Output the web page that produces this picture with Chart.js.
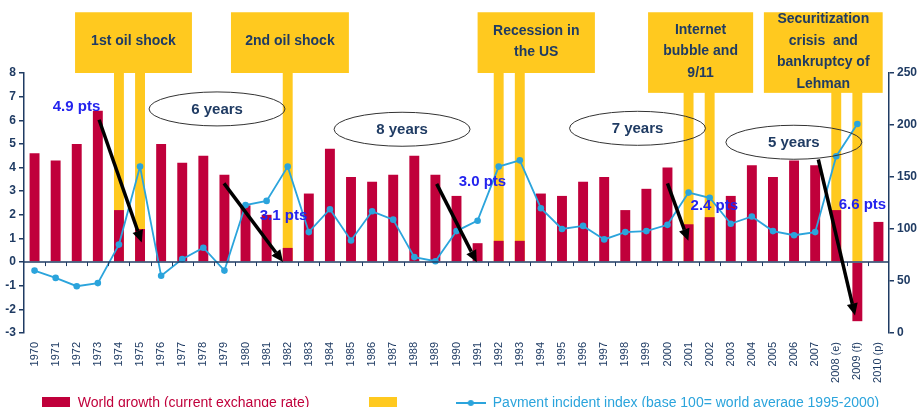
<!DOCTYPE html>
<html><head><meta charset="utf-8">
<script src="https://cdn.jsdelivr.net/npm/chart.js@4/dist/chart.umd.min.js"></script>
<style>
html,body{margin:0;padding:0;background:#fff;overflow:hidden;}
#wrap{position:relative;width:920px;height:420px;}
</style></head><body>
<div id="wrap"><canvas id="c"></canvas></div>
<script>
// ---------- DATA ----------
const categories = ['1970','1971','1972','1973','1974','1975','1976','1977','1978','1979',
  '1980','1981','1982','1983','1984','1985','1986','1987','1988','1989',
  '1990','1991','1992','1993','1994','1995','1996','1997','1998','1999',
  '2000','2001','2002','2003','2004','2005','2006','2007','2008 (e)','2009 (f)','2010 (p)'];
const worldGrowth = [4.6,4.3,5.0,6.4,2.2,1.4,5.0,4.2,4.5,3.7,
  2.4,2.0,0.6,2.9,4.8,3.6,3.4,3.7,4.5,3.7,
  2.8,0.8,0.9,0.9,2.9,2.8,3.4,3.6,2.2,3.1,
  4.0,1.6,1.9,2.8,4.1,3.6,4.3,4.1,2.2,-2.5,1.7];
const paymentIndex = [60,53,45,48,85,160,55,71,82,60,
  123,127,160,97,119,89,117,109,73,69,
  98,108,160,166,120,100,103,90,97,98,
  104,135,130,105,112,98,94,97,170,201,null];
const crisisYears = ['1974','1975','1982','1992','1993','2001','2002','2008 (e)','2009 (f)'];
const leftRange = [-3, 8];
const rightRange = [0, 250];

// ---------- ANNOTATIONS (x in category index, y in left-axis units) ----------
const eventBoxes = [
  {lines:['1st oil shock'], x0:1.92, x1:7.46, top:10.57, bottom:8.0},
  {lines:['2nd oil shock'], x0:9.31, x1:14.9, top:10.57, bottom:8.0},
  {lines:['Recession in','the US'], x0:21.0, x1:26.56, top:10.57, bottom:8.0},
  {lines:['Internet','bubble and','9/11'], x0:29.08, x1:34.06, top:10.57, bottom:7.16},
  {lines:['Securitization','crisis  and','bankruptcy of','Lehman'], x0:34.57, x1:40.2, top:10.57, bottom:7.16}
];
const durationLabels = [
  {text:'6 years', x:8.65, y:6.48},
  {text:'8 years', x:17.42, y:5.62},
  {text:'7 years', x:28.58, y:5.66},
  {text:'5 years', x:35.99, y:5.07}
];
const dropArrows = [
  {x1:3.06, y1:6.02, x2:5.08, y2:0.83},
  {x1:8.98, y1:3.33, x2:11.78, y2:0.0},
  {x1:19.06, y1:3.31, x2:20.96, y2:-0.01},
  {x1:30.0, y1:3.33, x2:30.99, y2:0.9},
  {x1:37.15, y1:4.34, x2:38.89, y2:-2.26}
];
const dropLabels = [
  {text:'4.9 pts', x:1.99, y:6.58},
  {text:'3.1 pts', x:11.8, y:1.95},
  {text:'3.0 pts', x:21.23, y:3.41},
  {text:'2.4 pts', x:32.22, y:2.37},
  {text:'6.6 pts', x:39.24, y:2.41}
];

// ---------- STYLE ----------
const navy = '#1f3b63';
const redC = '#c0003b';
const yellowC = '#ffc91f';
const blueC = '#2ba4dc';
const ptsBlue = '#2424ee';
const FONT = '"Liberation Sans", Arial, sans-serif';

const crisisBars = categories.map(c => crisisYears.includes(c) ? leftRange[1] : null);

function swatch(color, w, h) {
  const c = document.createElement('canvas'); c.width = w; c.height = h;
  const g = c.getContext('2d'); g.fillStyle = color; g.fillRect(0, 0, w, h); return c;
}
function lineSwatch(color) {
  const c = document.createElement('canvas'); c.width = 30; c.height = 10;
  const g = c.getContext('2d'); g.strokeStyle = color; g.lineWidth = 2;
  g.beginPath(); g.moveTo(0, 5); g.lineTo(30, 5); g.stroke();
  g.fillStyle = color; g.beginPath(); g.arc(15, 5, 3, 0, Math.PI * 2); g.fill(); return c;
}

function drawArrow(ctx, x1, y1, x2, y2) {
  const ang = Math.atan2(y2 - y1, x2 - x1), hl = 12, hw = 5.5;
  const bx = x2 - hl * Math.cos(ang), by = y2 - hl * Math.sin(ang);
  ctx.strokeStyle = '#000'; ctx.lineWidth = 3.5; ctx.lineCap = 'butt';
  ctx.beginPath(); ctx.moveTo(x1, y1); ctx.lineTo(bx, by); ctx.stroke();
  ctx.fillStyle = '#000'; ctx.beginPath(); ctx.moveTo(x2, y2);
  ctx.lineTo(bx + hw * Math.sin(ang), by - hw * Math.cos(ang));
  ctx.lineTo(bx - hw * Math.sin(ang), by + hw * Math.cos(ang));
  ctx.closePath(); ctx.fill();
}

const overlay = {
  id: 'overlay',
  afterDatasetsDraw(chart) {
    const {ctx, chartArea, scales: {x, y}} = chart;
    ctx.save();
    const y0 = y.getPixelForValue(0);
    ctx.strokeStyle = navy; ctx.lineWidth = 1.5;
    ctx.beginPath(); ctx.moveTo(chartArea.left, y0); ctx.lineTo(chartArea.right, y0); ctx.stroke();
    ctx.lineWidth = 1; ctx.beginPath();
    for (let i = 1; i < categories.length; i++) {
      const px = Math.round(x.getPixelForValue(i - 0.5)) + 0.5;
      ctx.moveTo(px, y0); ctx.lineTo(px, y0 + 4);
    }
    ctx.stroke();
    ctx.font = 'bold 15px ' + FONT; ctx.textAlign = 'center'; ctx.textBaseline = 'middle';
    durationLabels.forEach(d => {
      const cx = x.getPixelForValue(d.x), cy = y.getPixelForValue(d.y);
      ctx.strokeStyle = '#333'; ctx.lineWidth = 1;
      ctx.beginPath(); ctx.ellipse(cx, cy, 68, 17, 0, 0, Math.PI * 2); ctx.stroke();
      ctx.fillStyle = navy; ctx.fillText(d.text, cx, cy + 1);
    });
    ctx.fillStyle = ptsBlue;
    dropLabels.forEach(d => ctx.fillText(d.text, x.getPixelForValue(d.x), y.getPixelForValue(d.y)));
    dropArrows.forEach(a => drawArrow(ctx, x.getPixelForValue(a.x1), y.getPixelForValue(a.y1),
      x.getPixelForValue(a.x2), y.getPixelForValue(a.y2)));
    ctx.restore();
  },
  afterDraw(chart) {
    const {ctx, scales: {x, y}} = chart;
    ctx.save();
    ctx.font = 'bold 14px ' + FONT; ctx.textAlign = 'center'; ctx.textBaseline = 'middle';
    eventBoxes.forEach(b => {
      const l = x.getPixelForValue(b.x0), r = x.getPixelForValue(b.x1);
      const t = y.getPixelForValue(b.top), bt = y.getPixelForValue(b.bottom);
      ctx.fillStyle = yellowC; ctx.fillRect(l, t, r - l, bt - t);
      ctx.fillStyle = navy;
      const lh = 21.5, cy = (t + bt) / 2 - 1, n = b.lines.length;
      b.lines.forEach((s, i) => ctx.fillText(s, (l + r) / 2, cy + (i - (n - 1) / 2) * lh));
    });
    ctx.restore();
  }
};

const axisCommon = (pos, range, step, width) => ({
  type: 'linear', position: pos, min: range[0], max: range[1],
  ticks: {stepSize: step, color: navy, font: {family: FONT, size: 12, weight: 'bold'}, padding: 3},
  grid: {drawOnChartArea: false, color: navy, tickLength: 5, lineWidth: 1.5},
  border: {display: true, color: navy, width: 1.5},
  afterFit(s) { s.width = width; }
});

new Chart(document.getElementById('c'), {
  type: 'bar',
  data: {
    labels: categories,
    datasets: [
      {type: 'line', label: 'Payment incident index (base 100= world average 1995-2000)', data: paymentIndex,
        yAxisID: 'y1', borderColor: blueC, backgroundColor: blueC, borderWidth: 1.8,
        pointRadius: 3.3, pointBackgroundColor: blueC, pointBorderWidth: 0, tension: 0, order: 0},
      {label: 'World growth (current exchange rate)', data: worldGrowth, yAxisID: 'y',
        backgroundColor: redC, grouped: false, categoryPercentage: 1, barPercentage: 0.47, order: 1},
      {label: 'Crisis', data: crisisBars, yAxisID: 'y',
        backgroundColor: yellowC, grouped: false, categoryPercentage: 1, barPercentage: 0.47, order: 2}
    ]
  },
  options: {
    responsive: true, maintainAspectRatio: false, animation: false, devicePixelRatio: 1,
    layout: {padding: {top: 73, left: 0, right: 0, bottom: 0}},
    plugins: {
      tooltip: {enabled: false},
      legend: {
        position: 'bottom',
        labels: {
          usePointStyle: true, pointStyleWidth: 30, padding: 8,
          font: {family: FONT, size: 14},
          generateLabels() {
            return [
              {text: 'World growth (current exchange rate)' + ' '.repeat(13), fontColor: redC, pointStyle: swatch(redC, 28, 12), datasetIndex: 1, lineWidth: 0, hidden: false},
              {text: ' '.repeat(11), fontColor: yellowC, pointStyle: swatch(yellowC, 28, 12), datasetIndex: 2, lineWidth: 0, hidden: false},
              {text: 'Payment incident index (base 100= world average 1995-2000)', fontColor: blueC, pointStyle: lineSwatch(blueC), datasetIndex: 0, lineWidth: 0, hidden: false}
            ];
          }
        }
      }
    },
    scales: {
      x: {
        type: 'category', position: 'bottom',
        grid: {display: false, drawTicks: false}, border: {display: false},
        ticks: {autoSkip: false, maxRotation: 90, minRotation: 90, padding: 9, color: navy,
          font: {family: FONT, size: 11}},
        afterFit(s) { s.height = 55; }
      },
      y: axisCommon('left', leftRange, 1, 24),
      y1: axisCommon('right', rightRange, 50, 31)
    }
  },
  plugins: [overlay]
});
</script>
</body></html>
